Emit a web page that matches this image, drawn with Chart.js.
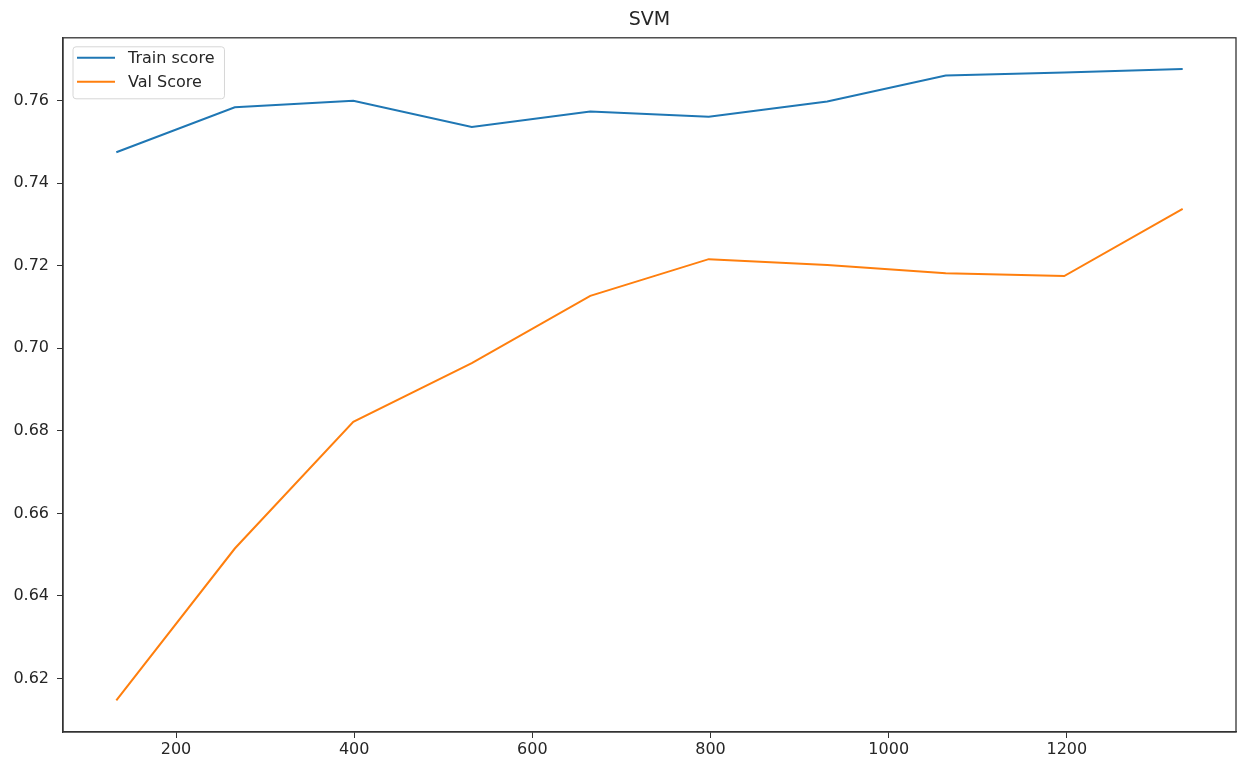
<!DOCTYPE html>
<html>
<head>
<meta charset="utf-8">
<script src="https://cdn.jsdelivr.net/npm/chart.js@4"></script>
<style>
  html, body { margin: 0; padding: 0; background: #fff; }
  #wrap { width: 1239px; height: 762px; }
</style>
</head>
<body>
<div id="wrap"><canvas id="svmChart"></canvas></div>
<script>
// Training set sizes
const TRAIN_SIZES = [133, 266, 399, 532, 665, 798, 931, 1064, 1197, 1330];

// Scores
const TRAIN_SCORE = [0.7475, 0.7584, 0.7600, 0.7536, 0.7574, 0.7561, 0.7598, 0.7661, 0.7668, 0.7677];
const VAL_SCORE = [0.6147, 0.6515, 0.6822, 0.6964, 0.7127, 0.7216, 0.7202, 0.7182, 0.7175, 0.7338];

// Tick labels
const X_TICKS = [200, 400, 600, 800, 1000, 1200];
const Y_TICKS = [0.62, 0.64, 0.66, 0.68, 0.70, 0.72, 0.74, 0.76];

const FONT = "'DejaVu Sans', sans-serif";
const TEXT = "#262626";

// Box around the axes + legend in the upper left, matplotlib style
const framePlugin = {
  id: "frame",
  afterDatasetsDraw(chart) {
    const { ctx, chartArea: a } = chart;
    ctx.save();
    ctx.strokeStyle = "#333";
    ctx.lineWidth = 1.3;
    ctx.strokeRect(a.left, a.top, a.right - a.left, a.bottom - a.top);

    // legend
    ctx.font = "16px " + FONT;
    const items = chart.data.datasets;
    const textW = Math.max(...items.map(d => ctx.measureText(d.label).width));
    const bx = a.left + 10, by = a.top + 9;
    const bw = 55 + textW + 10, bh = 52;
    ctx.beginPath();
    ctx.roundRect(bx, by, bw, bh, 3);
    ctx.fillStyle = "rgba(255,255,255,0.85)";
    ctx.fill();
    ctx.strokeStyle = "#d6d6d6";
    ctx.lineWidth = 1;
    ctx.stroke();
    items.forEach((d, i) => {
      const y = by + 11 + i * 24;
      ctx.beginPath();
      ctx.moveTo(bx + 4, y);
      ctx.lineTo(bx + 42, y);
      ctx.strokeStyle = d.borderColor;
      ctx.lineWidth = 2;
      ctx.stroke();
      ctx.fillStyle = TEXT;
      ctx.textBaseline = "middle";
      ctx.fillText(d.label, bx + 55, y + 1);
    });
    ctx.restore();
  }
};

new Chart(document.getElementById("svmChart"), {
  type: "line",
  data: {
    datasets: [
      {
        label: "Train score",
        data: TRAIN_SIZES.map((x, i) => ({ x, y: TRAIN_SCORE[i] })),
        borderColor: "#1f77b4",
        borderWidth: 2,
        pointRadius: 0,
        tension: 0
      },
      {
        label: "Val Score",
        data: TRAIN_SIZES.map((x, i) => ({ x, y: VAL_SCORE[i] })),
        borderColor: "#ff7f0e",
        borderWidth: 2,
        pointRadius: 0,
        tension: 0
      }
    ]
  },
  options: {
    responsive: true,
    maintainAspectRatio: false,
    animation: false,
    layout: { padding: { left: 0, right: 3, top: 0, bottom: 0 } },
    scales: {
      x: {
        type: "linear",
        min: 73.15,
        max: 1389.85,
        afterBuildTicks: s => { s.ticks = X_TICKS.map(v => ({ value: v })); },
        afterFit: s => { s.height = 30; },
        grid: { drawOnChartArea: false, drawTicks: true, tickLength: 6, tickColor: "#333" },
        border: { color: "#333", width: 1.3 },
        ticks: {
          padding: 2,
          color: TEXT,
          font: { family: FONT, size: 16 },
          callback: v => String(v)
        }
      },
      y: {
        type: "linear",
        min: 0.60705,
        max: 0.77523,
        afterBuildTicks: s => { s.ticks = Y_TICKS.map(v => ({ value: v })); },
        afterFit: s => { s.width = 63; },
        grid: { drawOnChartArea: false, drawTicks: true, tickLength: 6, tickColor: "#333" },
        border: { color: "#333", width: 1.3 },
        ticks: {
          padding: 8,
          color: TEXT,
          font: { family: FONT, size: 16 },
          callback: v => v.toFixed(2)
        }
      }
    },
    plugins: {
      legend: { display: false },
      tooltip: { enabled: false },
      title: {
        display: true,
        fullSize: false,
        text: "SVM",
        color: TEXT,
        font: { family: FONT, size: 19, weight: "normal" },
        padding: { top: 9, bottom: 6 }
      }
    }
  },
  plugins: [framePlugin]
});
</script>
</body>
</html>
